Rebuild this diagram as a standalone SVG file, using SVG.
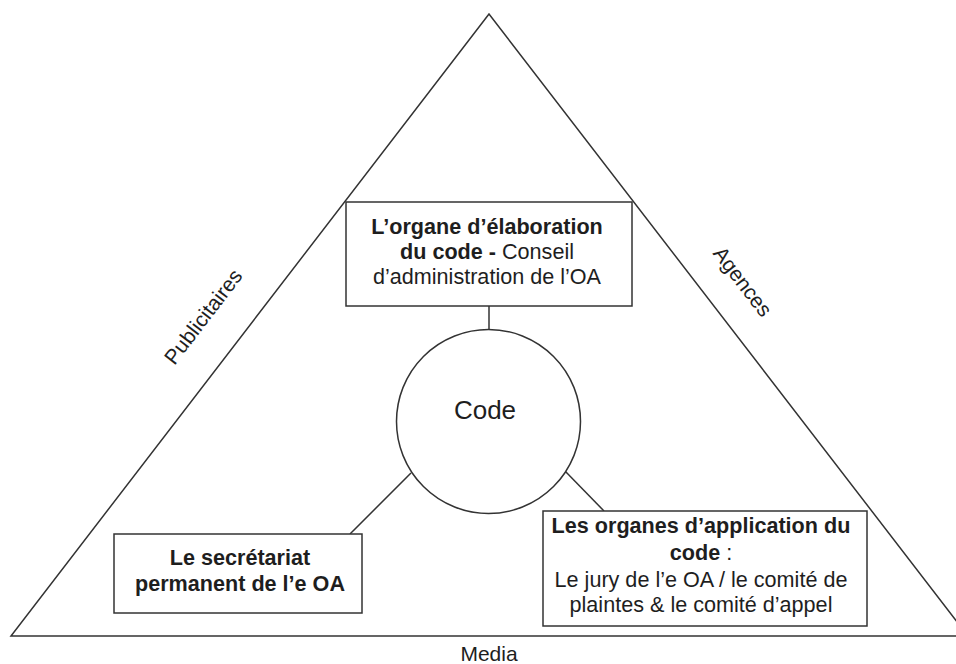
<svg xmlns="http://www.w3.org/2000/svg" width="956" height="664" viewBox="0 0 956 664">
<style>
.ln{fill:none;stroke:#333;stroke-width:1.5}
.bx{fill:#fff;stroke:#333;stroke-width:1.5}
text{font-family:"Liberation Sans",Arial,sans-serif;fill:#1e1e1e;font-size:21.6px;text-anchor:middle}
.b{font-weight:bold}
.s{font-size:21px}
.c{font-size:26px}
</style>
<rect width="956" height="664" fill="#fff"/>
<g id="triangle">
<polygon class="ln" points="489,14 11,636 968,636"/>
</g>
<g id="side-labels">
<text class="s" transform="translate(209,321) rotate(-52.5)">Publicitaires</text>
<text class="s" transform="translate(737,286) rotate(52.5)">Agences</text>
<text class="s" x="489" y="661">Media</text>
</g>
<g id="connectors">
<line class="ln" x1="489" y1="306" x2="489" y2="330"/>
<line class="ln" x1="411" y1="473" x2="350" y2="534"/>
<line class="ln" x1="565" y1="471" x2="604" y2="511"/>
</g>
<g id="node-elaboration">
<rect class="bx" x="346" y="202" width="286" height="104"/>
<text x="487" y="234" class="b">L’organe d’élaboration</text>
<text x="487" y="259"><tspan class="b">du code -</tspan> Conseil</text>
<text x="487" y="284">d’administration de l’OA</text>
</g>
<g id="node-code">
<circle class="bx" cx="488.5" cy="421.5" r="92"/>
<text class="c" x="485" y="419">Code</text>
</g>
<g id="node-secretariat">
<rect class="bx" x="114" y="534" width="248" height="79"/>
<text x="240" y="565" class="b">Le secrétariat</text>
<text x="240" y="591" class="b">permanent de l’e OA</text>
</g>
<g id="node-application">
<rect class="bx" x="543" y="511" width="324" height="115"/>
<text x="701" y="533"><tspan class="b">Les organes d’application du</tspan></text>
<text x="701" y="560"><tspan class="b">code</tspan> :</text>
<text x="701" y="587">Le jury de l’e OA / le comité de</text>
<text x="701" y="612">plaintes &amp; le comité d’appel</text>
</g>
</svg>
